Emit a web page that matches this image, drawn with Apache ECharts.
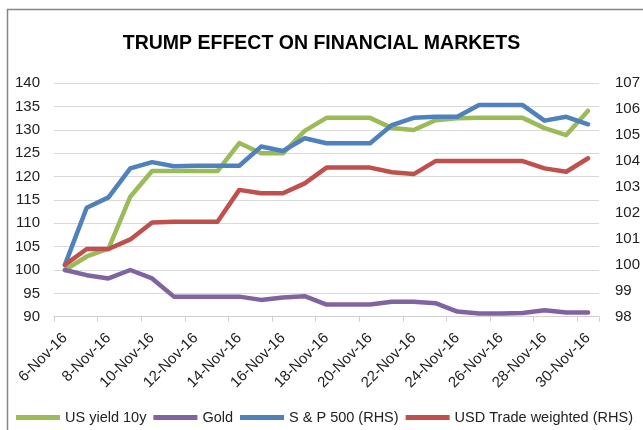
<!DOCTYPE html>
<html>
<head>
<meta charset="utf-8">
<script src="https://cdn.jsdelivr.net/npm/echarts@6/dist/echarts.min.js"></script>
<style>
html,body{margin:0;padding:0;background:#fff;}
#chart{width:643px;height:430px;}
</style>
</head>
<body>
<div id="chart"></div>
<script>
const dates = ['6-Nov-16','7-Nov-16','8-Nov-16','9-Nov-16','10-Nov-16','11-Nov-16','12-Nov-16','13-Nov-16','14-Nov-16','15-Nov-16','16-Nov-16','17-Nov-16','18-Nov-16','19-Nov-16','20-Nov-16','21-Nov-16','22-Nov-16','23-Nov-16','24-Nov-16','25-Nov-16','26-Nov-16','27-Nov-16','28-Nov-16','29-Nov-16','30-Nov-16'];
const usYield10y = [100, 102.9, 104.6, 115.7, 121.2, 121.2, 121.2, 121.2, 127.2, 125.0, 125.0, 129.8, 132.6, 132.6, 132.6, 130.4, 130.0, 132.1, 132.5, 132.6, 132.6, 132.6, 130.4, 128.9, 134.1];
const gold = [100, 98.9, 98.2, 100, 98.2, 94.3, 94.3, 94.3, 94.3, 93.6, 94.1, 94.4, 92.6, 92.6, 92.6, 93.2, 93.2, 92.9, 91.1, 90.7, 90.7, 90.8, 91.4, 90.9, 90.9];
const sp500 = [100, 102.2, 102.6, 103.72, 103.96, 103.8, 103.82, 103.82, 103.82, 104.56, 104.39, 104.88, 104.69, 104.69, 104.69, 105.39, 105.67, 105.71, 105.71, 106.16, 106.16, 106.16, 105.56, 105.71, 105.42];
const usdTradeWeighted = [100, 100.61, 100.61, 100.98, 101.63, 101.66, 101.66, 101.66, 102.89, 102.76, 102.76, 103.14, 103.75, 103.75, 103.75, 103.57, 103.5, 104.0, 104.0, 104.0, 104.0, 104.0, 103.72, 103.59, 104.11];
const seriesNames = ['US yield 10y', 'Gold', 'S & P 500 (RHS)', 'USD Trade weighted (RHS)'];
const leftTicks = {min: 90, max: 140, interval: 5};
const rightTicks = {min: 98, max: 107, interval: 1};

const font = 'Liberation Sans, Arial, sans-serif';
const chart = echarts.init(document.getElementById('chart'));
function line(name, data, color, axis) {
  return {
    name: name, type: 'line', data: data, yAxisIndex: axis,
    symbol: 'none', smooth: false, animation: false,
    lineStyle: {color: color, width: 4.5, cap: 'round', join: 'round'},
    itemStyle: {color: color}
  };
}
chart.setOption({
  animation: false,
  backgroundColor: '#fff',
  graphic: [{
    type: 'rect', silent: true,
    shape: {x: 7.5, y: 9.5, width: 700, height: 500},
    style: {fill: 'none', stroke: '#868686', lineWidth: 1.5}
  }],
  title: {
    text: 'TRUMP EFFECT ON FINANCIAL MARKETS',
    left: 'center', top: 29,
    textStyle: {fontFamily: font, fontSize: 19.5, fontWeight: 'bold', color: '#000'}
  },
  legend: {
    data: seriesNames,
    left: 16, top: 410, width: 627, padding: 0,
    icon: 'rect', itemWidth: 44, itemHeight: 5, itemGap: 7,
    textStyle: {fontFamily: font, fontSize: 14.5, color: '#222'}
  },
  grid: {left: 54, right: 42, top: 83.3, bottom: 113.3, containLabel: false},
  xAxis: {
    type: 'category', data: dates, boundaryGap: true,
    axisLine: {show: true, lineStyle: {color: '#d0d0d0', width: 1}},
    axisTick: {show: true, interval: 1, length: 5, lineStyle: {color: '#d0d0d0'}},
    axisLabel: {interval: 1, rotate: 45, margin: 19, fontFamily: font, fontSize: 15, color: '#222'},
    splitLine: {show: false}
  },
  yAxis: [{
    type: 'value', min: leftTicks.min, max: leftTicks.max, interval: leftTicks.interval,
    axisLine: {show: false}, axisTick: {show: false},
    axisLabel: {margin: 14, fontFamily: font, fontSize: 15, color: '#222'},
    splitLine: {show: true, lineStyle: {color: '#d9d9d9', width: 1}}
  }, {
    type: 'value', min: rightTicks.min, max: rightTicks.max, interval: rightTicks.interval,
    axisLine: {show: false}, axisTick: {show: false},
    axisLabel: {margin: 16, fontFamily: font, fontSize: 15, color: '#222'},
    splitLine: {show: false}
  }],
  series: [
    line(seriesNames[0], usYield10y, '#9BBB59', 0),
    line(seriesNames[1], gold, '#8064A2', 0),
    line(seriesNames[2], sp500, '#4F81BD', 1),
    line(seriesNames[3], usdTradeWeighted, '#C0504D', 1)
  ]
});
</script>
</body>
</html>
